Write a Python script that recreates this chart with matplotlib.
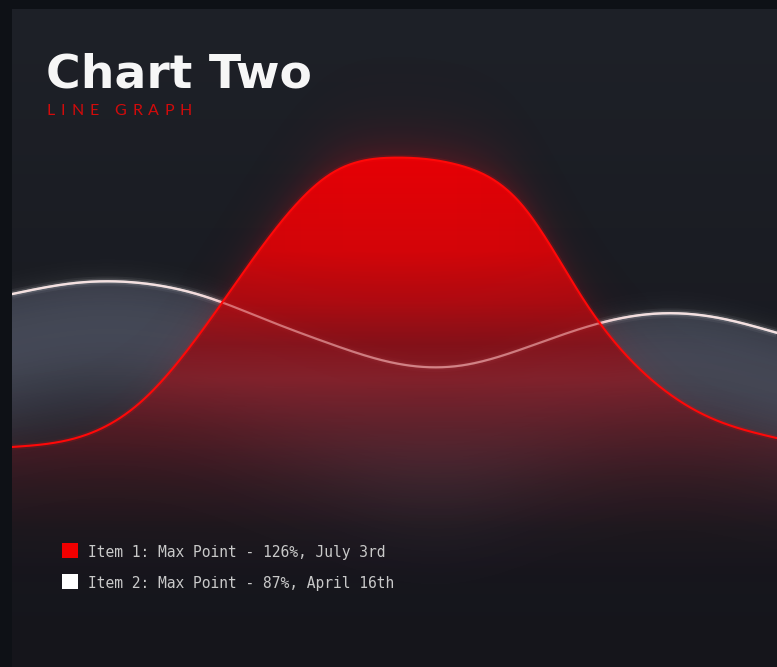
import numpy as np
import matplotlib
matplotlib.use("Agg")
import matplotlib.pyplot as plt
from matplotlib.patches import Polygon, Rectangle

# ---------------- data ----------------
positions = list(range(13))
item1_values = [34.9, 37.7, 48.7, 72.0, 100.0, 120.8, 125.9, 123.6, 111.0, 80.2, 56.6, 43.7, 37.7]
item2_values = [83.0, 86.5, 86.5, 82.4, 74.8, 67.3, 61.3, 60.4, 65.7, 72.6, 76.7, 75.8, 70.8]
legend_labels = ["Item 1: Max Point - 126%, July 3rd", "Item 2: Max Point - 87%, April 16th"]
legend_colors = ["#f00000", "#ffffff"]
title_text = "Chart Two"
subtitle_text = "LINE GRAPH"

W, H, DPI = 777, 667, 100
CARD_L, CARD_T = 12, 9
YMIN, YMAX = -34.28, 172.64
XMIN, XMAX = 0, 12


def smooth(xs, ys, n=40):
    """natural cubic spline through the points (for drawing a smooth line)"""
    xs = np.asarray(xs, float)
    ys = np.asarray(ys, float)
    k = len(xs)
    h = np.diff(xs)
    A = np.zeros((k, k))
    b = np.zeros(k)
    A[0, 0] = A[-1, -1] = 1
    for i in range(1, k - 1):
        A[i, i - 1] = h[i - 1]
        A[i, i] = 2 * (h[i - 1] + h[i])
        A[i, i + 1] = h[i]
        b[i] = 6 * ((ys[i + 1] - ys[i]) / h[i] - (ys[i] - ys[i - 1]) / h[i - 1])
    M = np.linalg.solve(A, b)
    ox, oy = [], []
    for i in range(k - 1):
        t = np.linspace(0, 1, n, endpoint=False)
        hi = h[i]
        s = ((1 - t) * ys[i] + t * ys[i + 1]
             + hi**2 / 6 * (((1 - t)**3 - (1 - t)) * M[i] + (t**3 - t) * M[i + 1]))
        ox.append(xs[i] + t * hi)
        oy.append(s)
    ox.append([xs[-1]])
    oy.append([ys[-1]])
    return np.concatenate(ox), np.concatenate(oy)


fig = plt.figure(figsize=(W / DPI, H / DPI), dpi=DPI)
fig.patch.set_facecolor("#0e1116")

ax = fig.add_axes([CARD_L / W, 0, (W - CARD_L) / W, (H - CARD_T) / H])
ax.set_xlim(XMIN, XMAX)
ax.set_ylim(YMIN, YMAX)
ax.axis("off")

ncols, nrows = W - CARD_L, H - CARD_T
py = CARD_T + np.arange(nrows) + 0.5
px = CARD_L + np.arange(ncols) + 0.5
xcol = XMIN + (np.arange(ncols) + 0.5) / ncols * (XMAX - XMIN)
EXT = (XMIN, XMAX, YMIN, YMAX)


def val_to_py(v):
    return CARD_T + (YMAX - np.asarray(v)) / (YMAX - YMIN) * nrows


# ---------------- card background ----------------
top_c = np.array([30, 33, 40]) / 255
bot_c = np.array([21, 21, 27]) / 255
f = ((py - CARD_T) / nrows)[:, None, None]
bg = np.broadcast_to(top_c * (1 - f) + bot_c * f, (nrows, ncols, 3)).copy()
ax.imshow(bg, extent=EXT, aspect="auto", origin="upper", zorder=0)

sx1, sy1 = smooth(positions, item1_values)
sx2, sy2 = smooth(positions, item2_values)
curve1_py = val_to_py(np.interp(xcol, sx1, sy1))
curve2_py = val_to_py(np.interp(xcol, sx2, sy2))
below_red = py[:, None] > curve1_py[None, :]

# ---------------- item 2 (white) fill ----------------
d = py[:, None] - curve2_py[None, :]
a2 = np.where(d >= 0, 0.31 * np.exp(-((d - 50) / 95.0) ** 2), 0)
a2 = np.where(below_red, a2 * 0.55, a2)
img2 = np.zeros((nrows, ncols, 4))
img2[..., 0], img2[..., 1], img2[..., 2] = 165 / 255, 174 / 255, 204 / 255
img2[..., 3] = a2
poly2 = Polygon(np.column_stack([np.r_[sx2, XMAX, XMIN], np.r_[sy2, YMIN, YMIN]]),
                closed=True, facecolor="none", edgecolor="none")
ax.add_patch(poly2)
im2 = ax.imshow(img2, extent=EXT, aspect="auto", origin="upper", zorder=1)
im2.set_clip_path(poly2)

# soft white glow above the line
du = curve2_py[None, :] - py[:, None]
glow2 = np.zeros((nrows, ncols, 4))
glow2[..., :3] = 1.0
glow2[..., 3] = np.where(du > 0, 0.07 * np.exp(-du / 10.0), 0)
ax.imshow(glow2, extent=EXT, aspect="auto", origin="upper", zorder=1.5)

for lw, al in [(7, 0.05), (4, 0.12)]:
    ax.plot(sx2, sy2, color="#ffffff", lw=lw, alpha=al, solid_capstyle="butt", zorder=2)
ax.plot(sx2, sy2, color="#eeeeee", lw=1.7, zorder=2)

# ---------------- item 1 (red) fill ----------------
stops = np.array([
    [157, 232, 0, 5, 1.00],
    [250, 214, 5, 9, 1.00],
    [300, 185, 10, 16, 0.95],
    [345, 150, 16, 24, 0.86],
    [380, 160, 28, 38, 0.74],
    [430, 135, 22, 32, 0.52],
    [480, 125, 25, 35, 0.27],
    [530, 110, 25, 35, 0.09],
    [585, 100, 20, 30, 0.00],
])
img1 = np.zeros((nrows, ncols, 4))
for k in range(1, 4):
    img1[..., k - 1] = np.interp(py, stops[:, 0], stops[:, k])[:, None] / 255
alpha_col = np.interp(py, stops[:, 0], stops[:, 4])[:, None]
cx = np.exp(-((px - 400) / 480.0) ** 2)[None, :]
img1[..., 3] = alpha_col * (0.72 + 0.28 * cx)
poly1 = Polygon(np.column_stack([np.r_[sx1, XMAX, XMIN], np.r_[sy1, YMIN, YMIN]]),
                closed=True, facecolor="none", edgecolor="none")
ax.add_patch(poly1)
im1 = ax.imshow(img1, extent=EXT, aspect="auto", origin="upper", zorder=3)
im1.set_clip_path(poly1)

# white line showing through the red area (tinted)
ax.plot(sx2, sy2, color="#ffd0d0", lw=1.5, alpha=0.45, zorder=3.2)

# red haze outside the area
du1 = curve1_py[None, :] - py[:, None]
wx = (0.3 + 0.7 * np.clip((400 - curve1_py) / 220.0, 0, 1))[None, :]
glow1 = np.zeros((nrows, ncols, 4))
glow1[..., 0], glow1[..., 1], glow1[..., 2] = 205 / 255, 15 / 255, 28 / 255
glow1[..., 3] = np.where(du1 > 0, 0.26 * wx * np.exp(-du1 / 24.0), 0)
ax.imshow(glow1, extent=EXT, aspect="auto", origin="upper", zorder=3.5)

ax.plot(sx1, sy1, color="#ff1010", lw=4, alpha=0.12, solid_capstyle="butt", zorder=4)
ax.plot(sx1, sy1, color="#ff0808", lw=1.5, zorder=5)


# ---------------- texts ----------------
def fx(x):
    return x / W


def fy(y):
    return 1 - y / H


fig.text(fx(46), fy(88), title_text, color="#f6f6f6", fontsize=34,
         fontweight="bold", family="DejaVu Sans", va="baseline", ha="left")

renderer = fig.canvas.get_renderer()
sub_fs = 11.5
sub_family = "Lato"
widths = []
for ch in subtitle_text:
    if ch == " ":
        widths.append(sub_fs * DPI / 72 * 0.3)
    else:
        t = fig.text(0, 0, ch, fontsize=sub_fs, family=sub_family)
        widths.append(t.get_window_extent(renderer).width)
        t.remove()
track = (145 - sum(widths)) / (len(subtitle_text) - 1)
xpos = 47.0
for ch, w in zip(subtitle_text, widths):
    if ch != " ":
        fig.text(fx(xpos), fy(115), ch, fontsize=sub_fs, family=sub_family,
                 color="#d20b0b", va="baseline", ha="left")
    xpos += w + track

for i, (lab, col) in enumerate(zip(legend_labels, legend_colors)):
    top = 543 + i * 31
    fig.add_artist(Rectangle((fx(62), fy(top + 15)), 16 / W, 15 / H, transform=fig.transFigure,
                             facecolor=col, edgecolor="none"))
    fig.text(fx(88), fy(top + 14), lab, fontsize=10.55, family="DejaVu Sans Mono",
             color="#c9c9c9", va="baseline", ha="left")

fig.savefig("out.png", dpi=DPI, facecolor=fig.get_facecolor())
